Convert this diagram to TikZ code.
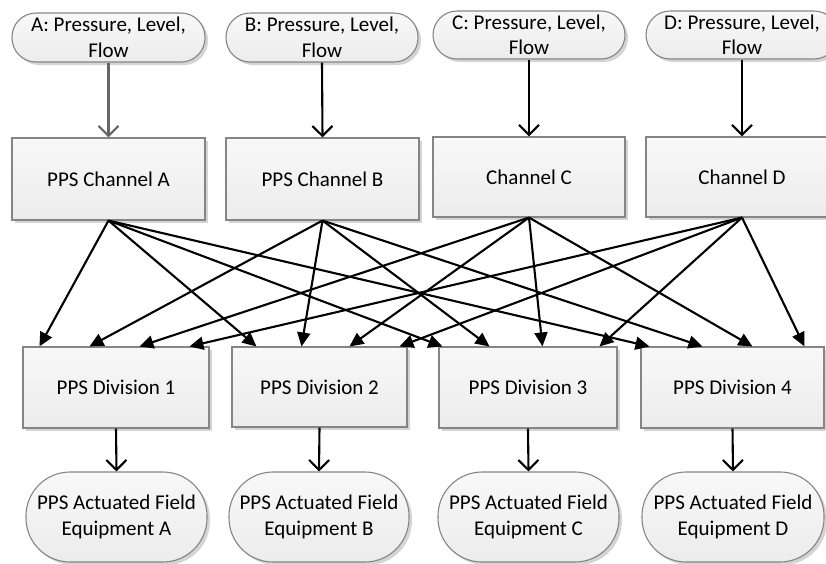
\documentclass[tikz,border=0pt]{standalone}
\usepackage{fontspec}
\setmainfont{Carlito}
\usetikzlibrary{arrows.meta,shadows,calc}
\definecolor{bordergray}{HTML}{858585}
\definecolor{filltop}{HTML}{F8F8F8}
\definecolor{fillbot}{HTML}{ECECEC}
\definecolor{shadowgray}{HTML}{D4D4D4}
\tikzset{
  shapebase/.style={draw=bordergray, line width=1.1pt, top color=filltop, bottom color=fillbot,
    drop shadow={shadow xshift=3pt, shadow yshift=-3pt, fill=shadowgray, opacity=1},
    font=\fontsize{21}{25.5}\selectfont, align=center, inner sep=0pt, text=black},
  pill/.style={shapebase, rounded corners=24pt},
  bigpill/.style={shapebase, rounded corners=44pt},
  boxnode/.style={shapebase},
  feed/.style={line width=2.1pt, -{Straight Barb[length=10pt,width=20pt,line width=2.1pt]}},
  cross/.style={line width=2.1pt, -{Triangle[length=14pt,width=13pt]}},
}
\begin{document}
\begin{tikzpicture}[x=1pt,y=-1pt]
\useasboundingbox (0,0) rectangle (826,563);
% top pills
\node[pill, minimum width=193pt, minimum height=49pt] (pa) at (108.5,37.5) {A: Pressure, Level,\\Flow};
\node[pill, minimum width=192pt, minimum height=49pt] (pb) at (322,37.5) {B: Pressure, Level,\\Flow};
\node[pill, minimum width=192pt, minimum height=48pt] (pc) at (529,35) {C: Pressure, Level,\\Flow};
\node[pill, minimum width=192pt, minimum height=48pt] (pd) at (742,35) {D: Pressure, Level,\\Flow};
% channels
\node[boxnode, minimum width=193pt, minimum height=82pt] (ca) at (108.5,179) {PPS Channel A};
\node[boxnode, minimum width=193pt, minimum height=82pt] (cb) at (322.5,179) {PPS Channel B};
\node[boxnode, minimum width=192pt, minimum height=80pt] (cc) at (529,177) {Channel C};
\node[boxnode, minimum width=192pt, minimum height=80pt] (cd) at (742,177) {Channel D};
% divisions
\node[boxnode, minimum width=186pt, minimum height=81pt] (d1) at (116,387.5) {PPS Division 1};
\node[boxnode, minimum width=175pt, minimum height=80pt] (d2) at (319.5,387) {PPS Division 2};
\node[boxnode, minimum width=178pt, minimum height=81pt] (d3) at (528,387.5) {PPS Division 3};
\node[boxnode, minimum width=183pt, minimum height=81pt] (d4) at (732.5,387.5) {PPS Division 4};
% equipment
\node[bigpill, minimum width=181pt, minimum height=90pt] (ea) at (116.5,517) {PPS Actuated Field\\Equipment A};
\node[bigpill, minimum width=180pt, minimum height=90pt] (eb) at (319,517) {PPS Actuated Field\\Equipment B};
\node[bigpill, minimum width=181pt, minimum height=90pt] (ec) at (528.5,517) {PPS Actuated Field\\Equipment C};
\node[bigpill, minimum width=182pt, minimum height=90pt] (ed) at (733,517) {PPS Actuated Field\\Equipment D};
% feeds
\draw[feed, draw=black!60] (pa.south) -- (ca.north);
\draw[feed] (pb.south) -- (cb.north);
\draw[feed] (pc.south) -- (cc.north);
\draw[feed] (pd.south) -- (cd.north);
\draw[feed] (d1.south) -- (ea.north);
\draw[feed] (d2.south) -- (eb.north);
\draw[feed] (d3.south) -- (ec.north);
\draw[feed] (d4.south) -- (ed.north);
% cross connections
\foreach \src/\a/\b/\c/\d in {ca/17/25/4/9, cb/67/70/51/62, cc/117/118/104/112, cd/167/168/161/164} {
  \draw[cross] (\src.south) -- ([xshift=\a pt]d1.north west);
  \draw[cross] (\src.south) -- ([xshift=\b pt]d2.north west);
  \draw[cross] (\src.south) -- ([xshift=\c pt]d3.north west);
  \draw[cross] (\src.south) -- ([xshift=\d pt]d4.north west);
}
\end{tikzpicture}
\end{document}
